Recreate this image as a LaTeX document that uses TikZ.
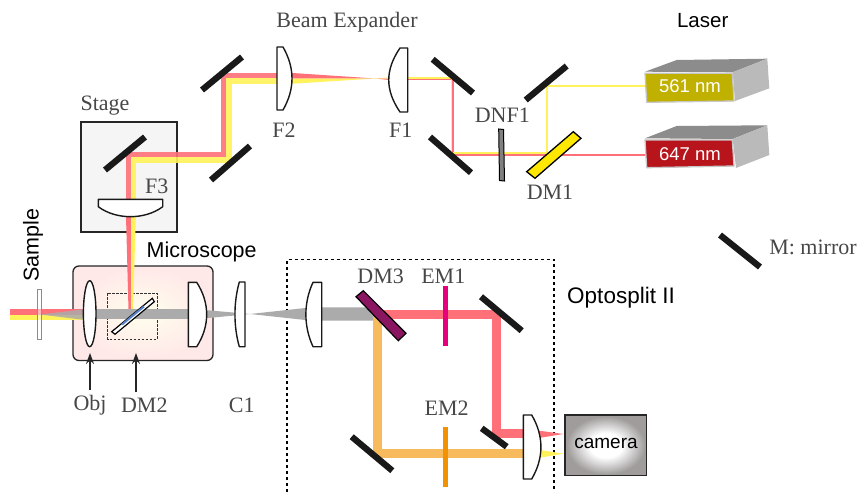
\documentclass[tikz,border=0pt]{standalone}
\usepackage{fontspec}
\setmainfont{Liberation Serif}
\setsansfont{Liberation Sans}
\usetikzlibrary{arrows.meta}
\definecolor{beamred}{HTML}{FF7078}
\definecolor{beamyel}{HTML}{FFF25A}
\definecolor{beamora}{HTML}{F7BB5E}
\definecolor{beamgry}{HTML}{ABABAB}
\definecolor{dmpurple}{HTML}{8A1560}
\definecolor{emmagenta}{HTML}{E6007E}
\definecolor{emorange}{HTML}{F39200}
\definecolor{laserolive}{HTML}{C0B000}
\definecolor{laserred}{HTML}{B8141C}
\definecolor{camgray}{HTML}{A09C9C}
\pgfdeclareradialshading{camshade}{\pgfpoint{0bp}{0bp}}{color(0bp)=(white); color(10bp)=(white); color(24bp)=(camgray); color(50bp)=(camgray)}

\begin{document}
\begin{tikzpicture}[x=1pt, y=-1pt,
    lab/.style={inner sep=0pt, text=black!72, font=\fontsize{22}{22}\selectfont},
    sanslab/.style={inner sep=0pt, font=\sffamily\fontsize{21.5}{21.5}\selectfont},
    lasertxt/.style={inner sep=0pt, text=white, font=\sffamily\fontsize{18.5}{18.5}\selectfont},
    mirror/.style={line width=6.3pt, black!90},
    lens/.style={draw=black!90, fill=white, line width=1.4pt, line join=round},
    thinbeam/.style={line width=1.7pt},
    redbeam/.style={line width=5.5pt, beamred, opacity=.9},
    yelbeam/.style={line width=5.5pt, beamyel, opacity=.9},
    bar/.style={line width=5pt},
    lasertop/.style={fill=black!45},
    laserside/.style={fill=black!27},
    laserfront/.style={draw=black!22, line width=1.3pt},
    pointer/.style={-{Stealth[length=11pt, width=8pt]}, line width=1.5pt, black!85, shorten <=5pt}]
  \useasboundingbox (0,0) rectangle (857,492);

  % boxes
  \fill[black!4] (81,122) rectangle (177,232);
  \draw[black!85, line width=1.3pt] (81,122) rectangle (177,232);
  \shade[rounded corners=6pt, inner color=yellow!7, outer color=red!9]
    (73,266) rectangle (213,360.5);
  \draw[rounded corners=6pt, black!85, line width=1.3pt] (73,266) rectangle (213,360.5);
  \draw[black, line width=1.9pt, dash pattern=on 3pt off 3pt]
    (287,492) -- (287,259.5) -- (554,259.5) -- (554,492);
  \draw[black!80, line width=.8pt, dash pattern=on 2.5pt off 1.5pt]
    (107.7,293.3) rectangle (157.3,339.3);

  % laser beams to the stage
  \draw[thinbeam, beamred] (645,154.8) -- (453.2,154.8) -- (453.2,79.5) -- (408,79.5);
  \draw[thinbeam, beamyel] (645,86) -- (546.7,86) -- (546.7,152.8) -- (451.5,152.8)
    -- (451.5,78) -- (408,78);
  \fill[beamyel] (375,78.5) -- (392,77.3) -- (392,78.7) -- cycle;
  \fill[beamred] (375,78.5) -- (392,78.7) -- (392,80.3) -- cycle;
  \fill[beamyel] (288,78.3) -- (288,84) -- (375,78.5) -- cycle;
  \fill[beamred] (288,72.7) -- (288,78.3) -- (375,78.5) -- cycle;
  \draw[redbeam] (128.4,205) -- (128.4,154.4) -- (223.4,154.4) -- (223.4,75.5) -- (280,75.5);
  \draw[yelbeam] (133.5,205) -- (133.5,160.2) -- (229,160.2) -- (229,81) -- (280,81);
  \fill[beamred] (125.7,205) -- (131,205) -- (131,310) -- (128.5,310) -- cycle;
  \fill[beamyel] (131,205) -- (136.2,205) -- (133,310) -- (131,310) -- cycle;

  % sample side
  \fill[beamred] (9.5,309) rectangle (85,314.7);
  \fill[beamyel] (9.5,314.7) rectangle (85,320.3);
  \fill[beamgry, opacity=.85] (40,314.5) -- (85,309.2) -- (85,320) -- cycle;
  \fill[beamgry] (90,309.3) rectangle (192,319.3);
  \fill[beamgry] (200,309.6) -- (250,314) -- (200,318.8) -- cycle;
  \fill[beamgry] (250,314) -- (310,307.5) -- (310,320.5) -- cycle;
  \fill[beamgry] (315,307.3) -- (367,307.3) -- (380,320.7) -- (315,320.7) -- cycle;

  % splitter beams
  \fill[beamred] (534,430) -- (563.5,434) -- (534,438.7) -- cycle;
  \fill[beamyel] (536,449.3) -- (563.5,453.7) -- (536,458.3) -- cycle;
  \draw[line width=9.3pt, beamred] (378,314.6) -- (496.5,314.6) -- (496.5,433.7) -- (526,433.7);
  \draw[line width=9.3pt, beamora] (377.3,316) -- (377.3,453.7) -- (526,453.7);

  % mirrors
  \draw[mirror] (105,170) -- (145,137);
  \draw[mirror] (202,90) -- (242,57);
  \draw[mirror] (211,180) -- (250,146);
  \draw[mirror] (432.7,59.3) -- (473,93);
  \draw[mirror] (430,137) -- (471,172.7);
  \draw[mirror] (525.7,100) -- (566.7,66);
  \draw[mirror] (481,296.7) -- (521.7,330.7);
  \draw[mirror] (351.7,436.7) -- (392.3,470.7);
  \draw[mirror] (481.7,428.3) -- (506.7,446.7);
  \draw[mirror] (720,235) -- (760,267);

  % lenses
  \draw[lens] (277,47) -- (283,47) .. controls (295,68) and (295,89) .. (283,110) -- (277,110) -- cycle;
  \draw[lens] (407.7,48) -- (400,48) .. controls (385,70) and (385,90) .. (400,112) -- (407.7,112) -- cycle;
  \draw[lens] (98.3,199.3) -- (162.7,199.3) -- (162.7,206.7) .. controls (145,220) and (116,220) .. (98.3,206.7) -- cycle;
  \draw[lens] (89.7,313.7) ellipse [x radius=6.3, y radius=33];
  \draw[lens] (188.3,282.3) -- (196.7,282.3) .. controls (210,303) and (210,326) .. (196.7,346.7) -- (188.3,346.7) -- cycle;
  \draw[lens] (245,282) -- (239.3,282) .. controls (233.5,303) and (233.5,326) .. (239.3,346.7) -- (245,346.7) -- cycle;
  \draw[lens] (321.7,282.3) -- (313,282.3) .. controls (303.5,303) and (303.5,326) .. (313,346.7) -- (321.7,346.7) -- cycle;
  \draw[lens] (523.3,415) -- (531.7,415) .. controls (544,436) and (544,458) .. (531.7,479) -- (523.3,479) -- cycle;

  % plates and filters
  \draw[black!45, fill=white, fill opacity=.5, line width=.8pt] (37.7,289.3) rectangle (41.7,339.3);
  \draw[black, fill=black!50, line width=1pt] (498.7,129) -- (503.5,129.5) -- (504.5,181) -- (499.5,180.5) -- cycle;
  \draw[black, fill=yellow!95!red, line width=1.3pt] (526.7,171.7) -- (573.3,131.7) -- (581,138.3) -- (535,178.3) -- cycle;
  \draw[black, fill=white, line width=1.2pt] (111.7,331.7) -- (152.3,298.3) -- (154.3,301.7) -- (115,334.3) -- cycle;
  \draw[line width=2pt, cyan!40!blue!70] (122,324.5) -- (144,306.5);
  \draw[black, fill=dmpurple, line width=1.2pt] (356,296.7) -- (363.3,290.7) -- (406,333.3) -- (398.3,340.7) -- cycle;
  \draw[bar, emmagenta] (445.8,285.7) -- (445.8,345.7);
  \draw[bar, emorange] (445.8,426.7) -- (445.8,486.7);

  % lasers
  \fill[lasertop] (645,71.7) -- (676.7,60) -- (767.3,58.7) -- (732.7,72.3) -- cycle;
  \fill[laserside] (732.7,72.3) -- (767.3,58.7) -- (769.3,88.3) -- (735,101) -- cycle;
  \draw[laserfront, fill=laserolive] (645,73.3) -- (732.3,73.3) -- (734,101) -- (646.7,102.3) -- cycle;
  \fill[lasertop] (645,138.3) -- (676.7,126) -- (767.3,125.3) -- (732.7,139) -- cycle;
  \fill[laserside] (732.7,139) -- (767.3,125.3) -- (769.3,155) -- (736,168) -- cycle;
  \draw[laserfront, fill=laserred] (645,140) -- (732.3,140) -- (734,166) -- (646.7,167.7) -- cycle;

  % camera
  \shade[shading=camshade] (565,415) rectangle (646.7,475.7);
  \draw[black!85, line width=1.4pt] (565,415) rectangle (646.7,475.7);

  % labels
  \node[lab] (expander) at (347,22) {Beam Expander};
  \node[lab] (stage) at (105,106) {Stage};
  \node[lab] (fthree) at (156.7,186.7) {F3};
  \node[lab] (ftwo) at (284,130) {F2};
  \node[lab] (fone) at (400.7,130) {F1};
  \node[lab] (dnf) at (502.3,115) {DNF1};
  \node[lab] (dmone) at (550,192.7) {DM1};
  \node[lab] (obj) at (90,405) {Obj};
  \node[lab] (dmtwo) at (144.3,405) {DM2};
  \node[lab] (cone) at (241.7,405) {C1};
  \node[lab] (dmthree) at (380.7,276) {DM3};
  \node[lab] (emone) at (443.3,276) {EM1};
  \node[lab] (emtwo) at (446.7,408.3) {EM2};
  \node[lab] (legend) at (813,247) {M: mirror};
  \node[sanslab, font=\sffamily\fontsize{20.5}{20.5}\selectfont] (laser) at (702.7,21) {Laser};
  \node[sanslab] (scope) at (201.7,252.3) {Microscope};
  \node[sanslab, font=\sffamily\fontsize{22.5}{22.5}\selectfont] (split) at (621,298) {Optosplit II};
  \node[sanslab, rotate=90] (sample) at (33,245) {Sample};
  \node[lasertxt] (yellowline) at (690,86) {561 nm};
  \node[lasertxt] (redline) at (690,154) {647 nm};
  \node[sanslab, font=\sffamily\fontsize{19}{19}\selectfont] (cam) at (606,443) {camera};

  % arrows
  \coordinate (objtip) at (90,353);
  \coordinate (dmtip) at (136,353);
  \draw[pointer] (obj.north -| objtip) -- (objtip);
  \draw[pointer] (dmtwo.north -| dmtip) -- (dmtip);
\end{tikzpicture}
\end{document}
